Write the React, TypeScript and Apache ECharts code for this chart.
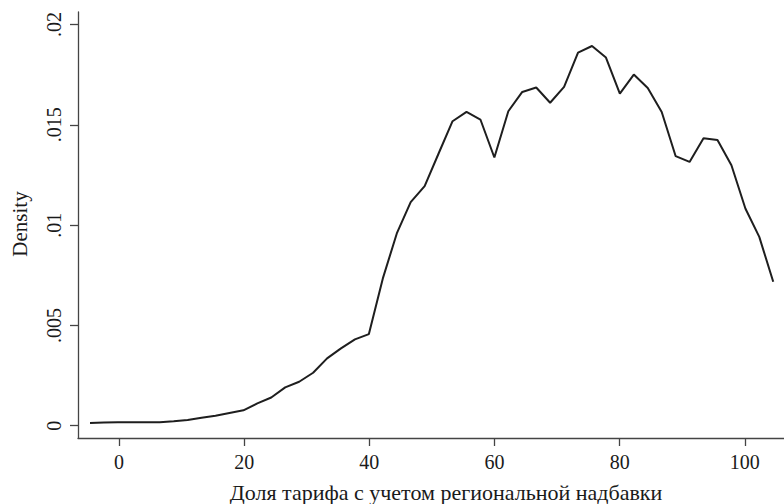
import React, { useEffect, useRef } from "react";
import * as echarts from "echarts";

const xValues = [
  -4.63, -2.4, -0.17, 2.05, 4.28, 6.51, 8.74, 10.97, 13.19, 15.42,
  17.65, 19.88, 22.11, 24.33, 26.56, 28.79, 31.02, 33.25, 35.47, 37.7,
  39.93, 42.16, 44.39, 46.61, 48.84, 51.07, 53.3, 55.53, 57.75, 59.98,
  62.21, 64.44, 66.67, 68.89, 71.12, 73.35, 75.58, 77.81, 80.03, 82.26,
  84.49, 86.72, 88.95, 91.17, 93.4, 95.63, 97.86, 100.09, 102.31, 104.54,
];

const densityValues = [
  0.00014, 0.000154, 0.000169, 0.000169, 0.000169, 0.000174, 0.000219, 0.000284, 0.000399, 0.000498,
  0.000633, 0.000767, 0.001116, 0.001405, 0.001913, 0.002192, 0.002641, 0.003358, 0.003856, 0.004305,
  0.004569, 0.007344, 0.009586, 0.011146, 0.011943, 0.013573, 0.015182, 0.015645, 0.015267, 0.013373,
  0.01568, 0.016642, 0.016861, 0.016104, 0.016891, 0.018605, 0.018934, 0.018356, 0.016562, 0.017509,
  0.016841, 0.015645, 0.013438, 0.013154, 0.014335, 0.01425, 0.01299, 0.010832, 0.009417, 0.007175,
];

const xTicks = [0, 20, 40, 60, 80, 100];
const xTickLabels = ["0", "20", "40", "60", "80", "100"];
const yTicks = [0, 0.005, 0.01, 0.015, 0.02];
const yTickLabels = ["0", ".005", ".01", ".015", ".02"];

const xTitle = "Доля тарифа с учетом региональной надбавки";
const yTitle = "Density";

const FONT = "'Liberation Serif', 'Times New Roman', serif";
const AXIS_COLOR = "#444";
const TEXT_COLOR = "#1a1a1a";

export default function App() {
  const ref = useRef<HTMLDivElement>(null);

  useEffect(() => {
    if (!ref.current) return;
    const chart = echarts.init(ref.current, null, { renderer: "svg" });
    const data = xValues.map((x, i) => [x, densityValues[i]]);
    chart.setOption({
      animation: false,
      backgroundColor: "#ffffff",
      grid: { left: 78, right: 0, top: 12, bottom: 66, containLabel: false },
      xAxis: {
        type: "value",
        min: -6.55,
        max: 106.26,
        axisLine: { show: true, onZero: false, lineStyle: { color: AXIS_COLOR, width: 1.3 } },
        axisTick: {
          show: true,
          customValues: xTicks,
          length: 8,
          lineStyle: { color: AXIS_COLOR, width: 1.3 },
        },
        axisLabel: {
          customValues: xTicks,
          margin: 14,
          fontFamily: FONT,
          fontSize: 20,
          color: TEXT_COLOR,
          formatter: (v: number) => {
            const idx = xTicks.findIndex((t) => Math.abs(t - v) < 1e-9);
            return idx >= 0 ? xTickLabels[idx] : "";
          },
        },
        splitLine: { show: false },
      },
      yAxis: {
        type: "value",
        min: -0.000613,
        max: 0.020628,
        axisLine: { show: true, onZero: false, lineStyle: { color: AXIS_COLOR, width: 1.3 } },
        axisTick: {
          show: true,
          customValues: yTicks,
          length: 8,
          lineStyle: { color: AXIS_COLOR, width: 1.3 },
        },
        axisLabel: {
          customValues: yTicks,
          rotate: 90,
          margin: 14,
          fontFamily: FONT,
          fontSize: 20,
          color: TEXT_COLOR,
          formatter: (v: number) => {
            const idx = yTicks.findIndex((t) => Math.abs(t - v) < 1e-9);
            return idx >= 0 ? yTickLabels[idx] : "";
          },
        },
        splitLine: { show: false },
      },
      graphic: [
        {
          type: "text",
          x: 446,
          y: 503,
          style: {
            text: xTitle,
            fontFamily: FONT,
            fontSize: 22,
            fill: TEXT_COLOR,
            align: "center",
            verticalAlign: "bottom",
          },
        },
        {
          type: "text",
          x: 20,
          y: 224,
          rotation: Math.PI / 2,
          style: {
            text: yTitle,
            fontFamily: FONT,
            fontSize: 21,
            fill: TEXT_COLOR,
            align: "center",
            verticalAlign: "middle",
          },
        },
      ],
      series: [
        {
          type: "line",
          data,
          showSymbol: false,
          symbol: "none",
          lineStyle: { color: "#1e1e1e", width: 2 },
          silent: true,
        },
      ],
    });
    return () => chart.dispose();
  }, []);

  return (
    <div
      ref={ref}
      style={{ position: "fixed", left: 0, top: 0, width: 784, height: 504, background: "#fff" }}
    />
  );
}
